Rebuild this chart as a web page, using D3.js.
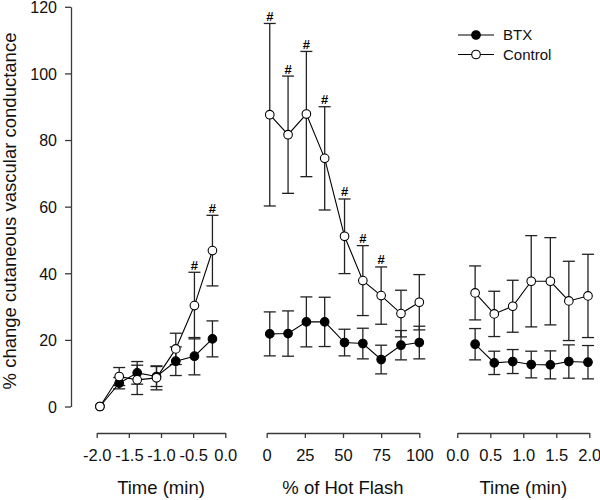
<!DOCTYPE html>
<html>
<head>
<meta charset="utf-8">
<script src="https://cdn.jsdelivr.net/npm/d3@7"></script>
<style>
  html, body { margin: 0; padding: 0; background: #fff; }
  svg { display: block; font-family: "Liberation Sans", Arial, sans-serif; }
</style>
</head>
<body>
<svg id="chart" width="600" height="500"></svg>
<script>
// ---- data ----
const yTicks = [0, 20, 40, 60, 80, 100, 120];

const leftTicks = [-2.0, -1.5, -1.0, -0.5, 0.0];
const leftTime = [-1.95, -1.65, -1.37, -1.07, -0.77, -0.48, -0.2];
const leftBTX = [0, 7.0, 10.1, 9.0, 13.6, 15.1, 20.3];
const leftBTXErr = [0, 1.7, 3.4, 3.0, 4.3, 5.6, 5.4];
const leftCtl = [0, 9.0, 8.0, 8.6, 17.3, 30.3, 46.8];
const leftCtlErr = [0, 2.7, 4.4, 3.6, 4.7, 10.0, 10.6];
const leftSig = [0, 0, 0, 0, 0, 1, 1];

const midTicks = [0, 25, 50, 75, 100];
const midPct = [2, 14, 26, 38, 51, 63, 75, 88, 100];
const midBTX = [21.8, 21.9, 25.4, 25.4, 19.2, 18.9, 14.1, 18.4, 19.2];
const midBTXErr = [6.6, 6.8, 7.5, 7.4, 4.0, 4.6, 4.3, 4.4, 4.9];
const midCtl = [87.6, 81.6, 87.8, 74.5, 51.1, 37.8, 33.3, 27.9, 31.3];
const midCtlErr = [27.4, 17.6, 18.8, 15.5, 11.2, 10.5, 8.6, 7.0, 8.3];
const midSig = [1, 1, 1, 1, 1, 1, 1, 0, 0];

const rightTicks = [0.0, 0.5, 1.0, 1.5, 2.0];
const rightTime = [0.27, 0.56, 0.84, 1.12, 1.41, 1.69, 1.98];
const rightBTX = [18.7, 13.1, 13.5, 12.6, 12.5, 13.5, 13.3];
const rightBTXErr = [4.7, 3.5, 3.6, 4.0, 4.2, 5.0, 5.0];
const rightCtl = [34.1, 27.8, 30.1, 37.6, 37.6, 31.7, 33.2];
const rightCtlErr = [8.1, 6.8, 7.8, 13.7, 13.1, 11.9, 12.5];
const rightSig = [0, 0, 0, 0, 0, 0, 0];

const seriesNames = ["BTX", "Control"];
const yTitle = "% change cutaneous vascular conductance";

// ---- layout ----
const svg = d3.select("#chart");
const y = d3.scaleLinear().domain([0, 120]).range([406.5, 6.8]);
const axisY = 433;
const axisColor = "#3a3a3a";
const fmt1 = v => d3.format(".1f")(v).replace("\u2212", "-");

const panels = [
  { ticks: leftTicks, domain: [-2, 0], range: [96.7, 225.3], fmt: fmt1, title: "Time (min)",
    x: leftTime, btx: leftBTX, btxErr: leftBTXErr, ctl: leftCtl, ctlErr: leftCtlErr, sig: leftSig },
  { ticks: midTicks, domain: [0, 100], range: [266.7, 419.3], fmt: d3.format("d"), title: "% of Hot Flash",
    x: midPct, btx: midBTX, btxErr: midBTXErr, ctl: midCtl, ctlErr: midCtlErr, sig: midSig },
  { ticks: rightTicks, domain: [0, 2], range: [457.3, 589.3], fmt: fmt1, title: "Time (min)",
    x: rightTime, btx: rightBTX, btxErr: rightBTXErr, ctl: rightCtl, ctlErr: rightCtlErr, sig: rightSig }
];

// y axis
const yAxisG = svg.append("g").attr("transform", "translate(71,0)")
  .call(d3.axisLeft(y).tickValues(yTicks).tickSize(6).tickPadding(8).tickSizeOuter(0));
yAxisG.select(".domain").attr("stroke", axisColor).attr("stroke-width", 1.3);
yAxisG.selectAll(".tick line").attr("stroke", axisColor).attr("stroke-width", 1.3);
yAxisG.selectAll(".tick text").attr("font-size", 16).attr("fill", "#111").attr("dy", "0.36em")
  .attr("font-family", "Liberation Sans, Arial, sans-serif");

svg.append("text")
  .attr("transform", "translate(16,211) rotate(-90)")
  .attr("text-anchor", "middle")
  .attr("font-size", 18.5)
  .attr("fill", "#111")
  .text(yTitle);

const capHalf = 6;

panels.forEach(p => {
  const x = d3.scaleLinear().domain(p.domain).range(p.range);
  const g = svg.append("g");

  const xa = g.append("g").attr("transform", `translate(0,${axisY})`)
    .call(d3.axisBottom(x).tickValues(p.ticks).tickFormat(p.fmt).tickSize(5).tickPadding(11).tickSizeOuter(0));
  xa.select(".domain").attr("stroke", axisColor).attr("stroke-width", 1.3);
  xa.selectAll(".tick line").attr("stroke", axisColor).attr("stroke-width", 1.3);
  xa.selectAll(".tick text").attr("font-size", 16.5).attr("fill", "#111")
    .attr("font-family", "Liberation Sans, Arial, sans-serif");

  g.append("text")
    .attr("x", (p.range[0] + p.range[1]) / 2)
    .attr("y", 494)
    .attr("text-anchor", "middle")
    .attr("font-size", 18.5)
    .attr("fill", "#111")
    .text(p.title);

  const series = [
    { vals: p.btx, errs: p.btxErr, fill: "#000" },
    { vals: p.ctl, errs: p.ctlErr, fill: "#fff" }
  ];

  // error bars
  series.forEach(s => {
    s.vals.forEach((v, i) => {
      const e = s.errs[i];
      if (e <= 0) return;
      const cx = x(p.x[i]);
      const eg = g.append("g").attr("stroke", "#222").attr("stroke-width", 1.3);
      eg.append("line").attr("x1", cx).attr("x2", cx).attr("y1", y(v - e)).attr("y2", y(v + e));
      eg.append("line").attr("x1", cx - capHalf).attr("x2", cx + capHalf).attr("y1", y(v + e)).attr("y2", y(v + e));
      eg.append("line").attr("x1", cx - capHalf).attr("x2", cx + capHalf).attr("y1", y(v - e)).attr("y2", y(v - e));
    });
  });

  // lines
  const line = d3.line().x((d, i) => x(p.x[i])).y(d => y(d));
  series.forEach(s => {
    g.append("path").datum(s.vals).attr("d", line)
      .attr("fill", "none").attr("stroke", "#000").attr("stroke-width", 1.1);
  });

  // markers
  series.forEach(s => {
    g.selectAll(null).data(s.vals).enter().append("circle")
      .attr("cx", (d, i) => x(p.x[i]))
      .attr("cy", d => y(d))
      .attr("r", 4.3)
      .attr("fill", s.fill)
      .attr("stroke", "#000")
      .attr("stroke-width", 1.1);
  });

  // significance marks
  p.sig.forEach((s, i) => {
    if (!s) return;
    g.append("text")
      .attr("x", x(p.x[i]))
      .attr("y", y(p.ctl[i] + p.ctlErr[i]) - 2.5)
      .attr("text-anchor", "middle")
      .attr("font-size", 13)
      .attr("font-weight", "bold")
      .attr("fill", "#000")
      .text("#");
  });
});

// legend
const legend = svg.append("g");
const legendFill = ["#000", "#fff"];
seriesNames.forEach((name, i) => {
  const ly = 35 + i * 19.5;
  legend.append("line").attr("x1", 458).attr("x2", 494).attr("y1", ly).attr("y2", ly)
    .attr("stroke", "#000").attr("stroke-width", 1.1);
  legend.append("circle").attr("cx", 476).attr("cy", ly).attr("r", 4.3)
    .attr("fill", legendFill[i]).attr("stroke", "#000").attr("stroke-width", 1.1);
  legend.append("text").attr("x", 503).attr("y", ly + 5.3)
    .attr("font-size", 15).attr("fill", "#111").text(name);
});
</script>
</body>
</html>
